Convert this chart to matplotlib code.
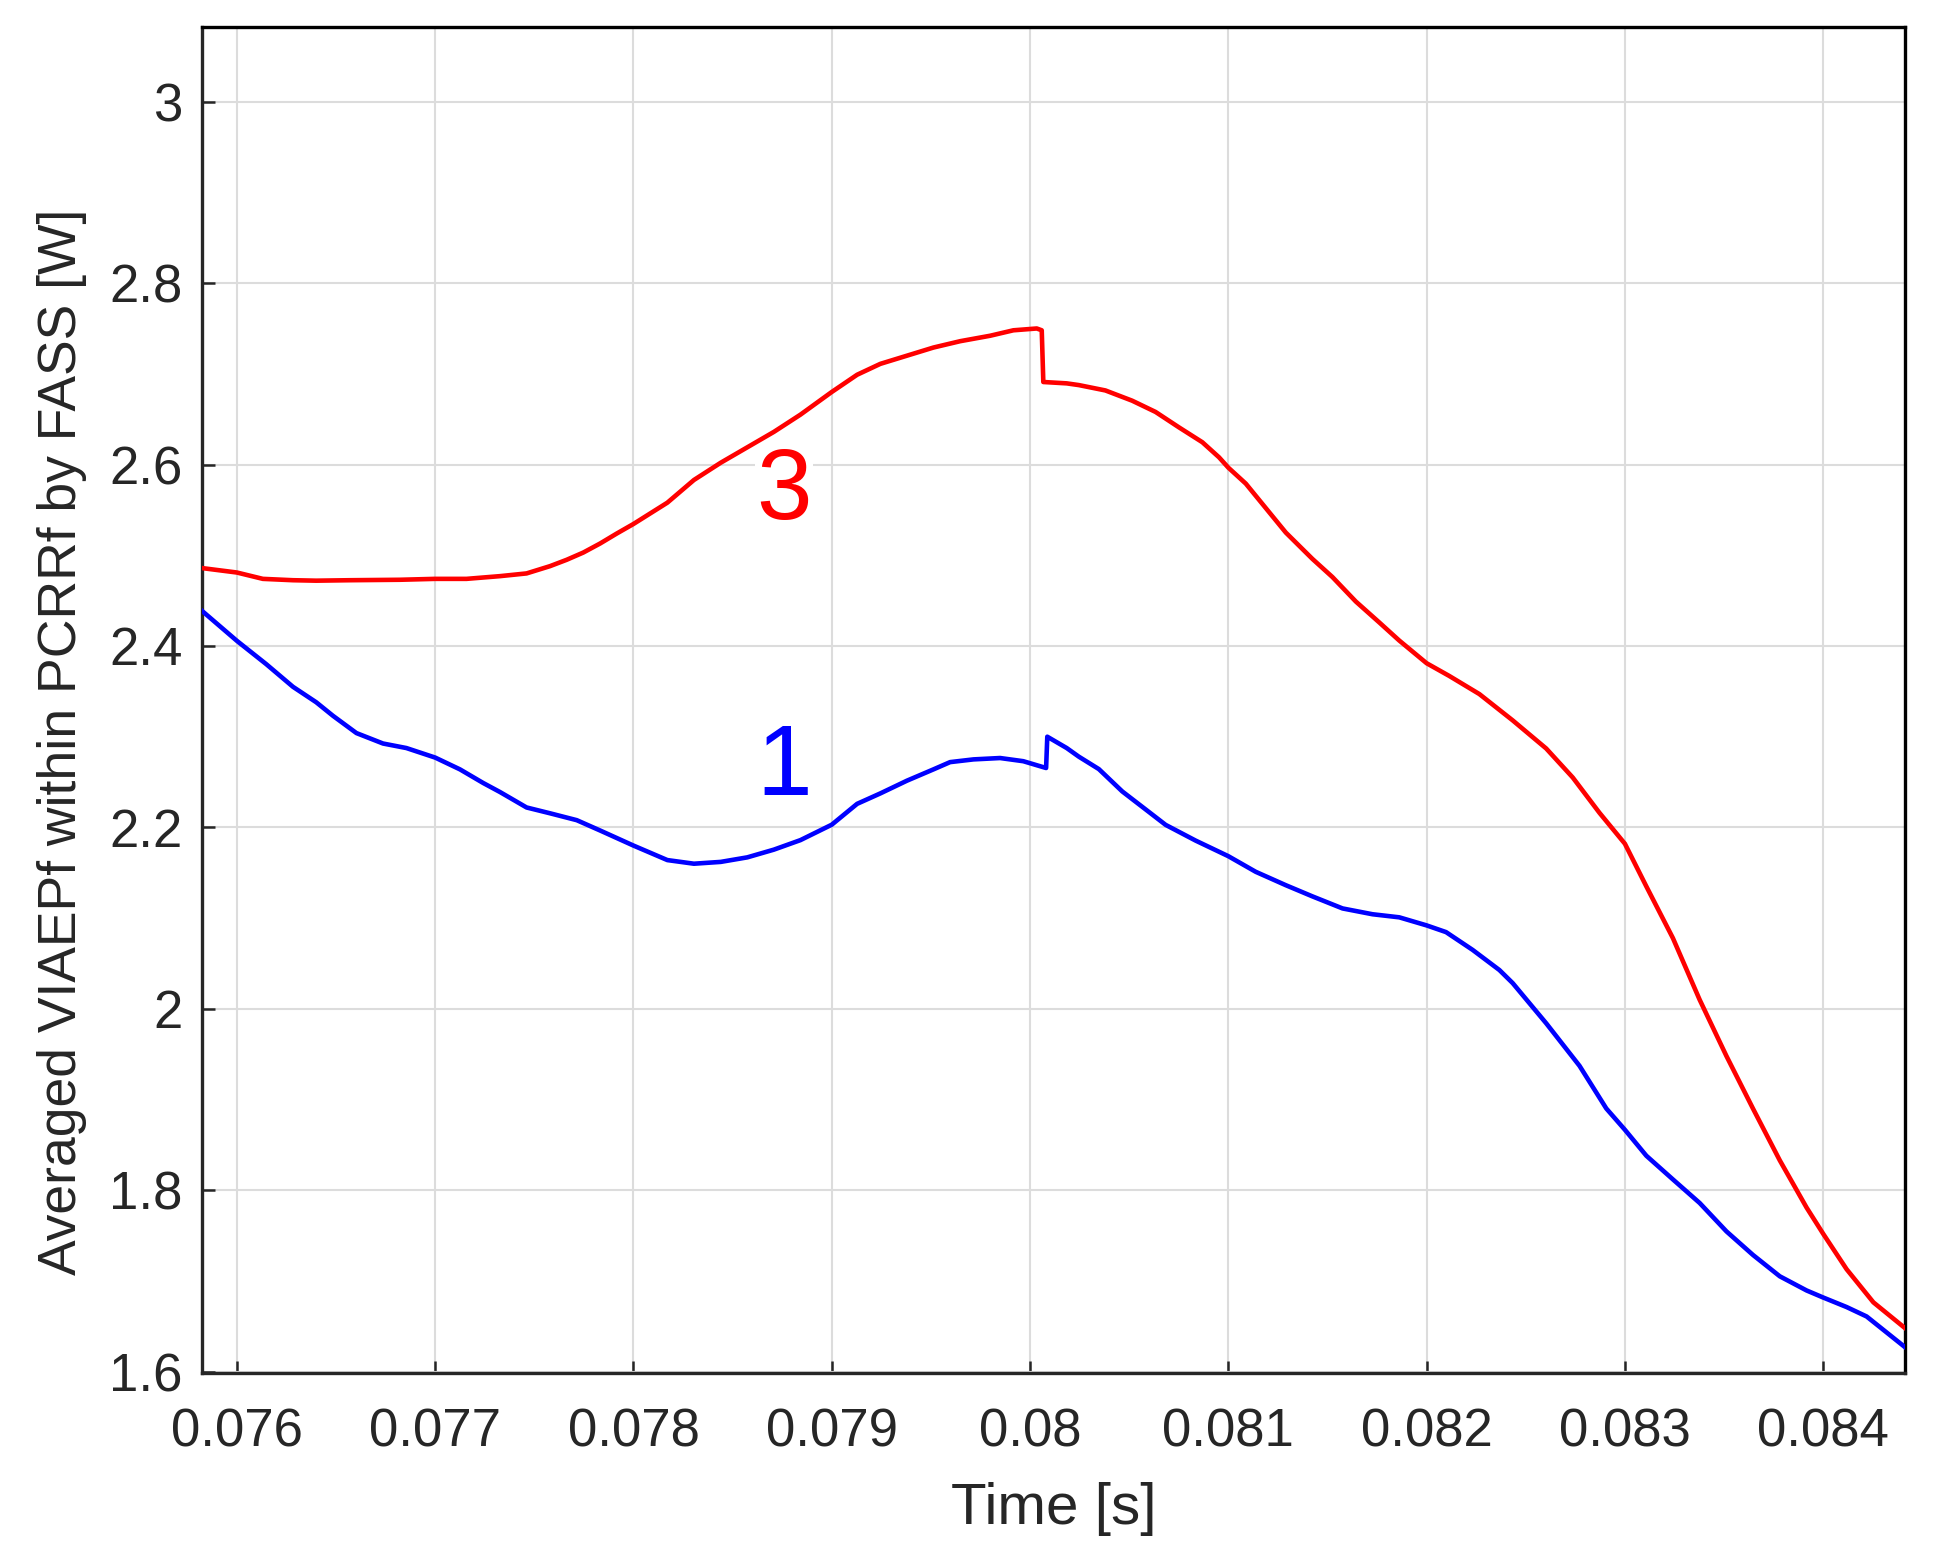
import matplotlib
matplotlib.use("Agg")
import matplotlib.pyplot as plt

plt.rcParams['font.family'] = ['Liberation Sans', 'DejaVu Sans']

# Red curve (case 3)
t3 = [0.075820, 0.076000, 0.076131, 0.076283, 0.076400, 0.076569, 0.076822,
      0.077000, 0.077158, 0.077327, 0.077461, 0.077579, 0.077663, 0.077747,
      0.077832, 0.077916, 0.078000, 0.078171, 0.078305, 0.078440, 0.078574,
      0.078708, 0.078842, 0.079000, 0.079128, 0.079245, 0.079379, 0.079513,
      0.079648, 0.079799, 0.079916, 0.080034, 0.080059, 0.080067, 0.080185,
      0.080246, 0.080380, 0.080515, 0.080633, 0.080751, 0.080869, 0.080953,
      0.081000, 0.081088, 0.081189, 0.081290, 0.081424, 0.081525, 0.081643,
      0.081761, 0.081862, 0.082000, 0.082114, 0.082266, 0.082434, 0.082603,
      0.082737, 0.082872, 0.083000, 0.083108, 0.083242, 0.083377, 0.083512,
      0.083646, 0.083781, 0.083916, 0.084000, 0.084118, 0.084253, 0.084413]
p3 = [2.486, 2.481, 2.474, 2.4725, 2.472, 2.4725, 2.473,
      2.474, 2.474, 2.477, 2.480, 2.488, 2.495, 2.503,
      2.513, 2.524, 2.5345, 2.558, 2.583, 2.602, 2.619,
      2.636, 2.655, 2.680, 2.699, 2.711, 2.720, 2.729,
      2.736, 2.742, 2.748, 2.750, 2.748, 2.691, 2.6895,
      2.6876, 2.6817, 2.6704, 2.658, 2.641, 2.6246, 2.608,
      2.5966, 2.579, 2.552, 2.525, 2.496, 2.476, 2.449,
      2.426, 2.406, 2.381, 2.367, 2.347, 2.318, 2.287,
      2.255, 2.216, 2.182, 2.135, 2.078, 2.010, 1.948,
      1.890, 1.833, 1.781, 1.752, 1.713, 1.6765, 1.648]

# Blue curve (case 1)
t1 = [0.075820, 0.076000, 0.076148, 0.076283, 0.076400, 0.076485, 0.076603,
      0.076737, 0.076855, 0.077000, 0.077125, 0.077242, 0.077327, 0.077461,
      0.077579, 0.077714, 0.077832, 0.078000, 0.078171, 0.078305, 0.078440,
      0.078574, 0.078708, 0.078842, 0.079000, 0.079128, 0.079245, 0.079379,
      0.079513, 0.079597, 0.079715, 0.079849, 0.079966, 0.080081, 0.080087,
      0.080185, 0.080246, 0.080347, 0.080465, 0.080582, 0.080684, 0.080835,
      0.081000, 0.081138, 0.081290, 0.081424, 0.081576, 0.081727, 0.081862,
      0.082000, 0.082098, 0.082232, 0.082367, 0.082434, 0.082603, 0.082771,
      0.082906, 0.083000, 0.083108, 0.083242, 0.083377, 0.083512, 0.083646,
      0.083781, 0.083916, 0.084000, 0.084118, 0.084219, 0.084413]
p1 = [2.4395, 2.4057, 2.380, 2.355, 2.338, 2.323, 2.304,
      2.2925, 2.2875, 2.277, 2.264, 2.249, 2.239, 2.222,
      2.2156, 2.208, 2.1966, 2.180, 2.164, 2.160, 2.162,
      2.167, 2.1755, 2.186, 2.203, 2.226, 2.2375, 2.2515,
      2.264, 2.272, 2.275, 2.2765, 2.273, 2.2655, 2.300,
      2.2875, 2.278, 2.2643, 2.2397, 2.220, 2.2028, 2.1855,
      2.1683, 2.1511, 2.1363, 2.124, 2.1107, 2.1043, 2.1009,
      2.092, 2.0846, 2.065, 2.0428, 2.0284, 1.9841, 1.9372,
      1.8902, 1.8667, 1.8381, 1.812, 1.786, 1.7547, 1.7287,
      1.7052, 1.6896, 1.6818, 1.6713, 1.6609, 1.627]

xticks = [0.076, 0.077, 0.078, 0.079, 0.080, 0.081, 0.082, 0.083, 0.084]
xticklabels = ['0.076', '0.077', '0.078', '0.079', '0.08', '0.081', '0.082', '0.083', '0.084']
yticks = [1.6, 1.8, 2.0, 2.2, 2.4, 2.6, 2.8, 3.0]
yticklabels = ['1.6', '1.8', '2', '2.2', '2.4', '2.6', '2.8', '3']

fig = plt.figure(figsize=(19.42, 15.57), dpi=100)
ax = fig.add_axes([0.104, 0.118, 0.877, 0.8647])

ax.plot(t3, p3, color='#ff0000', lw=3.3, zorder=3)
ax.plot(t1, p1, color='#0000ff', lw=3.3, zorder=3)

box = dict(facecolor='white', edgecolor='none', pad=1.0)
ax.text(0.07876, 2.569, '3', color='#ff0000', fontsize=72, ha='center', va='center',
        bbox=box, zorder=2)
ax.text(0.07876, 2.264, '1', color='#0000ff', fontsize=72, ha='center', va='center',
        bbox=box, zorder=2)

ax.set_xlim(0.075824, 0.084413)
ax.set_ylim(1.5983, 3.0824)
ax.set_xticks(xticks)
ax.set_xticklabels(xticklabels)
ax.set_yticks(yticks)
ax.set_yticklabels(yticklabels)

ax.grid(True, color='#dcdcdc', lw=1.5)
ax.set_axisbelow(True)
ax.tick_params(direction='in', length=9, width=1.8, labelsize=38, colors='#262626')
ax.tick_params(axis='x', pad=25)
ax.tick_params(axis='y', pad=14)
for s in ax.spines.values():
    s.set_linewidth(2.4)
    s.set_color('#000000')
ax.spines['left'].set_color('#262626')
ax.spines['bottom'].set_color('#262626')

ax.set_xlabel('Time [s]', fontsize=42, color='#262626', labelpad=17)
ax.set_ylabel('Averaged VIAEPf within PCRRf by FASS [W]', fontsize=38.5, color='#262626')
ax.yaxis.set_label_coords(-0.0677, 0.469)

fig.savefig('out.png', dpi=100)
